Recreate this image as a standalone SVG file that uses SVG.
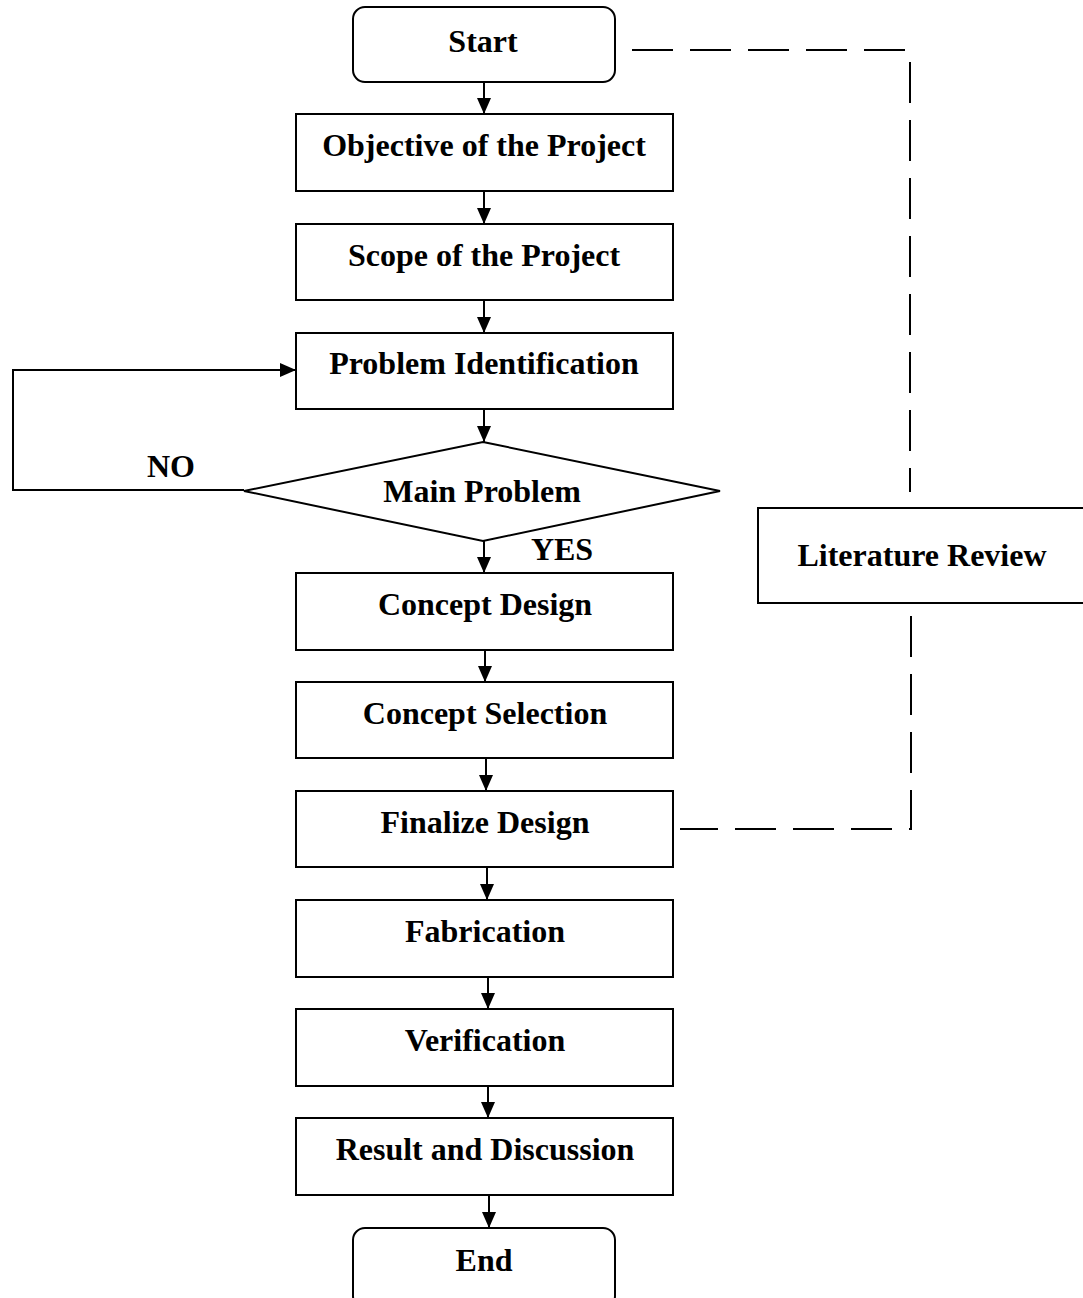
<svg xmlns="http://www.w3.org/2000/svg" width="1083" height="1298" viewBox="0 0 1083 1298">
<defs>
<marker id="ah" markerWidth="17" markerHeight="15" refX="16" refY="7" orient="auto" markerUnits="userSpaceOnUse">
<path d="M0,0 L16,7 L0,14 Z" fill="#000"/>
</marker>
<style>
.box{fill:#fff;stroke:#000;stroke-width:2}
.t{font-family:"Liberation Serif","Times New Roman",serif;font-weight:bold;font-size:32px;text-anchor:middle;fill:#000}
.c{fill:none;stroke:#000;stroke-width:2}
.d{fill:none;stroke:#000;stroke-width:2;stroke-dasharray:41 17}
</style>
</defs>
<rect width="1083" height="1298" fill="#fff"/>
<g id="connectors">
<line class="c" x1="484" y1="82" x2="484" y2="114" marker-end="url(#ah)"/>
<line class="c" x1="484" y1="191" x2="484" y2="224" marker-end="url(#ah)"/>
<line class="c" x1="484" y1="300" x2="484" y2="333" marker-end="url(#ah)"/>
<line class="c" x1="484" y1="409" x2="484" y2="442" marker-end="url(#ah)"/>
<line class="c" x1="484" y1="541" x2="484" y2="573" marker-end="url(#ah)"/>
<line class="c" x1="485" y1="650" x2="485" y2="682" marker-end="url(#ah)"/>
<line class="c" x1="486" y1="758" x2="486" y2="791" marker-end="url(#ah)"/>
<line class="c" x1="487" y1="867" x2="487" y2="900" marker-end="url(#ah)"/>
<line class="c" x1="488" y1="977" x2="488" y2="1009" marker-end="url(#ah)"/>
<line class="c" x1="488" y1="1086" x2="488" y2="1118" marker-end="url(#ah)"/>
<line class="c" x1="489" y1="1195" x2="489" y2="1228" marker-end="url(#ah)"/>
<polyline class="c" points="244,490 13,490 13,370 296,370" marker-end="url(#ah)"/>
<polyline class="d" points="632,50 910,50 910,492"/>
<polyline class="d" points="911,616 911,829 680,829"/>
<text class="t" x="171" y="477">NO</text>
<text class="t" x="562" y="560">YES</text>
</g>
<g id="start"><rect class="box" x="353" y="7" width="262" height="75" rx="12"/><text class="t" x="483" y="52">Start</text></g>
<g id="objective"><rect class="box" x="296" y="114" width="377" height="77"/><text class="t" x="484" y="156">Objective of the Project</text></g>
<g id="scope"><rect class="box" x="296" y="224" width="377" height="76"/><text class="t" x="484" y="266">Scope of the Project</text></g>
<g id="problem"><rect class="box" x="296" y="333" width="377" height="76"/><text class="t" x="484" y="374">Problem Identification</text></g>
<g id="main"><polygon class="box" points="483,442 720,491 483,541 244,491"/><text class="t" x="482" y="502">Main Problem</text></g>
<g id="concept-design"><rect class="box" x="296" y="573" width="377" height="77"/><text class="t" x="485" y="615">Concept Design</text></g>
<g id="concept-selection"><rect class="box" x="296" y="682" width="377" height="76"/><text class="t" x="485" y="724">Concept Selection</text></g>
<g id="finalize"><rect class="box" x="296" y="791" width="377" height="76"/><text class="t" x="485" y="833">Finalize Design</text></g>
<g id="fabrication"><rect class="box" x="296" y="900" width="377" height="77"/><text class="t" x="485" y="942">Fabrication</text></g>
<g id="verification"><rect class="box" x="296" y="1009" width="377" height="77"/><text class="t" x="485" y="1051">Verification</text></g>
<g id="result"><rect class="box" x="296" y="1118" width="377" height="77"/><text class="t" x="485" y="1160">Result and Discussion</text></g>
<g id="end"><rect class="box" x="353" y="1228" width="262" height="80" rx="12"/><text class="t" x="484" y="1271">End</text></g>
<g id="literature"><rect class="box" x="758" y="508" width="340" height="95"/><text class="t" x="922" y="566">Literature Review</text></g>
</svg>
